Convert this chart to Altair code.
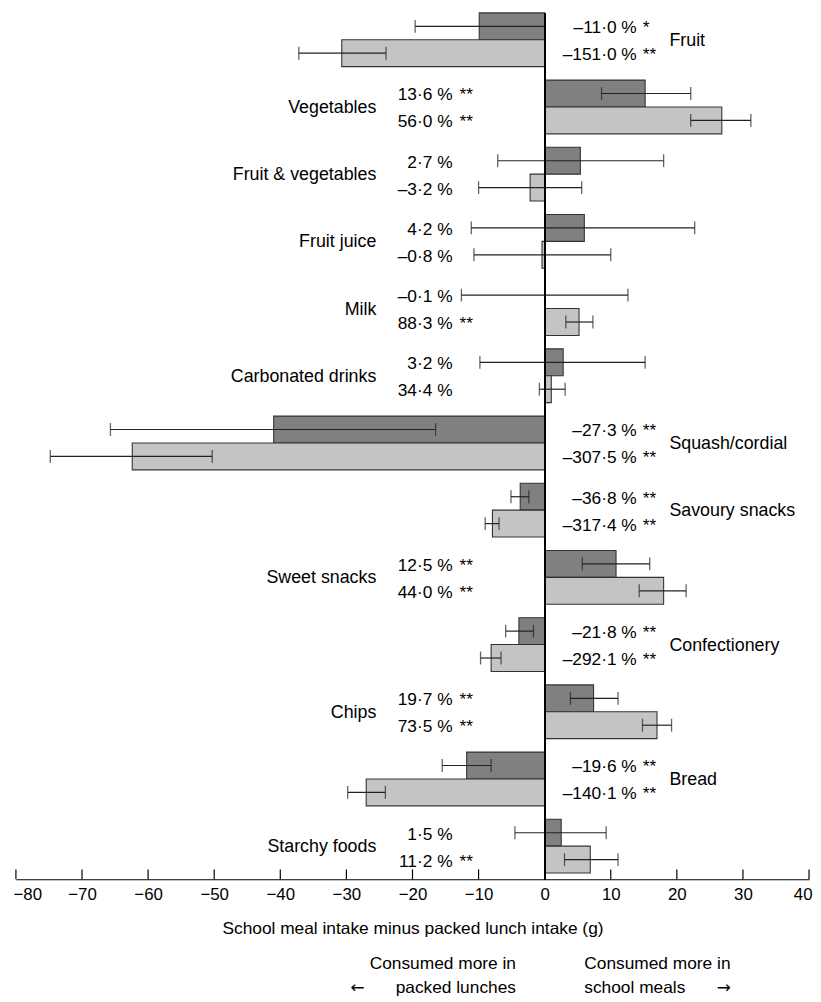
import altair as alt
import pandas as pd

categories = ["Fruit", "Vegetables", "Fruit & vegetables", "Fruit juice", "Milk",
              "Carbonated drinks", "Squash/cordial", "Savoury snacks", "Sweet snacks",
              "Confectionery", "Chips", "Bread", "Starchy foods"]

dark_mean = [-9.9, 15.2, 5.4, 6.0, 0.0, 2.8, -41.0, -3.7, 10.8, -3.9, 7.4, -11.8, 2.5]
dark_lo = [-19.6, 8.6, -7.1, -11.1, -12.6, -9.8, -65.7, -5.1, 5.7, -5.9, 3.9, -15.5, -4.5]
dark_hi = [0.1, 22.1, 18.0, 22.7, 12.6, 15.2, -16.5, -2.4, 15.9, -1.7, 11.1, -8.1, 9.3]
dark_pct = ["–11·0 %", "13·6 %", "2·7 %", "4·2 %", "–0·1 %", "3·2 %", "–27·3 %",
            "–36·8 %", "12·5 %", "–21·8 %", "19·7 %", "–19·6 %", "1·5 %"]
dark_sig = ["*", "**", "", "", "", "", "**", "**", "**", "**", "**", "**", ""]

light_mean = [-30.7, 26.8, -2.2, -0.4, 5.2, 1.0, -62.4, -7.9, 18.0, -8.1, 17.0, -27.0, 6.9]
light_lo = [-37.2, 22.1, -10.0, -10.7, 3.2, -0.8, -74.8, -9.0, 14.3, -9.7, 14.8, -29.8, 3.0]
light_hi = [-24.0, 31.2, 5.6, 10.0, 7.3, 3.1, -50.3, -6.9, 21.4, -6.6, 19.2, -24.1, 11.1]
light_pct = ["–151·0 %", "56·0 %", "–3·2 %", "–0·8 %", "88·3 %", "34·4 %", "–307·5 %",
             "–317·4 %", "44·0 %", "–292·1 %", "73·5 %", "–140·1 %", "11·2 %"]
light_sig = ["**", "**", "", "", "**", "", "**", "**", "**", "**", "**", "**", "**"]

x_ticks = [-80, -70, -60, -50, -40, -30, -20, -10, 0, 10, 20, 30, 40]
x_title = "School meal intake minus packed lunch intake (g)"
note_left = ["Consumed more in", "packed lunches"]
note_right = ["Consumed more in", "school meals"]

rows = []
for i, c in enumerate(categories):
    side = "right" if dark_mean[i] + light_mean[i] < 0 else "left"
    rows.append(dict(cat=c, series="dark", mean=dark_mean[i], lo=dark_lo[i], hi=dark_hi[i],
                     pct=dark_pct[i], sig=dark_sig[i], side=side))
    rows.append(dict(cat=c, series="light", mean=light_mean[i], lo=light_lo[i], hi=light_hi[i],
                     pct=light_pct[i], sig=light_sig[i], side=side))
df = pd.DataFrame(rows)
cat_df = pd.DataFrame({"cat": categories,
                       "side": ["right" if d + l < 0 else "left" for d, l in zip(dark_mean, light_mean)]})
tick_df = pd.DataFrame({"t": x_ticks})

W, H = 801, 875
FONT = "Liberation Sans, Arial, Helvetica, sans-serif"

xscale = alt.Scale(domain=[-80, 40], nice=False, zero=False)
yenc = alt.Y("cat:N", sort=categories, axis=None,
             scale=alt.Scale(paddingInner=0.2, paddingOuter=0, range=[0, H - 6.3]))
yoff = alt.YOffset("series:N", sort=["dark", "light"],
                   scale=alt.Scale(paddingInner=0, paddingOuter=0))
color = alt.Color("series:N", scale=alt.Scale(domain=["dark", "light"],
                                               range=["#808080", "#c4c4c4"]), legend=None)

base = alt.Chart(df)

bars = base.mark_bar(stroke="#333333", strokeWidth=1.1).encode(
    x=alt.X("mean:Q", scale=xscale,
            axis=alt.Axis(values=x_ticks, ticks=False, tickSize=0, grid=False,
                          domainColor="black", domainWidth=1.2, labelFontSize=17,
                          labelColor="black", labelPadding=7, labelFont=FONT,
                          labelFlush=True, labelFlushOffset=3,
                          title=x_title, titleFontSize=17.5, titleFontWeight="normal",
                          titleColor="black", titlePadding=18, titleFont=FONT)),
    x2=alt.datum(0),
    y=yenc, yOffset=yoff, color=color)

err = base.mark_rule(color="#222222", strokeWidth=1.2).encode(
    x="lo:Q", x2="hi:Q", y=yenc, yOffset=yoff)
cap_lo = base.mark_tick(color="#222222", thickness=1.3, size=13).encode(
    x="lo:Q", y=yenc, yOffset=yoff)
cap_hi = base.mark_tick(color="#222222", thickness=1.3, size=13).encode(
    x="hi:Q", y=yenc, yOffset=yoff)

zero = alt.Chart(tick_df).mark_rule(color="black", strokeWidth=1.2).encode(
    x=alt.datum(0), y=alt.value(0), y2=alt.value(H))
ticks = alt.Chart(tick_df).mark_rule(color="black", strokeWidth=1.2).encode(
    x=alt.X("t:Q"), y=alt.value(H - 10), y2=alt.value(H))

tstyle = dict(font=FONT, fontSize=17.5, color="black", baseline="middle", dy=2)
pct_left = base.transform_filter("datum.side == 'left'").mark_text(
    align="right", dx=-93, **tstyle).encode(x=alt.datum(0), y=yenc, yOffset=yoff, text="pct:N")
sig_left = base.transform_filter("datum.side == 'left'").mark_text(
    align="left", dx=-86, **tstyle).encode(x=alt.datum(0), y=yenc, yOffset=yoff, text="sig:N")
pct_right = base.transform_filter("datum.side == 'right'").mark_text(
    align="right", dx=93, **tstyle).encode(x=alt.datum(0), y=yenc, yOffset=yoff, text="pct:N")
sig_right = base.transform_filter("datum.side == 'right'").mark_text(
    align="left", dx=99, **tstyle).encode(x=alt.datum(0), y=yenc, yOffset=yoff, text="sig:N")

cstyle = dict(font=FONT, fontSize=18, color="black", baseline="middle", dy=1)
cat_left = alt.Chart(cat_df).transform_filter("datum.side == 'left'").mark_text(
    align="right", dx=-170, **cstyle).encode(x=alt.datum(0), y=yenc, text="cat:N")
cat_right = alt.Chart(cat_df).transform_filter("datum.side == 'right'").mark_text(
    align="left", dx=126, **cstyle).encode(x=alt.datum(0), y=yenc, text="cat:N")

one = alt.Data(values=[{"a": 1}])
nstyle = dict(font=FONT, fontSize=17.5, color="black", baseline="middle")
astyle = dict(font="DejaVu Sans", fontSize=17, color="black", baseline="middle")
Y1, Y2 = 961, 985
notes = [
    alt.Chart(one).mark_text(align="right", dx=-29, text=note_left[0], **nstyle).encode(
        x=alt.datum(0), y=alt.value(Y1)),
    alt.Chart(one).mark_text(align="right", dx=-29, text=note_left[1], **nstyle).encode(
        x=alt.datum(0), y=alt.value(Y2)),
    alt.Chart(one).mark_text(align="center", dx=-189, text="←", **astyle).encode(
        x=alt.datum(0), y=alt.value(Y2)),
    alt.Chart(one).mark_text(align="left", dx=40, text=note_right[0], **nstyle).encode(
        x=alt.datum(0), y=alt.value(Y1)),
    alt.Chart(one).mark_text(align="left", dx=40, text=note_right[1], **nstyle).encode(
        x=alt.datum(0), y=alt.value(Y2)),
    alt.Chart(one).mark_text(align="center", dx=181, text="→", **astyle).encode(
        x=alt.datum(0), y=alt.value(Y2)),
]

chart = alt.layer(bars, err, cap_lo, cap_hi, zero, ticks, pct_left, sig_left, pct_right,
                  sig_right, cat_left, cat_right, *notes).properties(
    width=W, height=H,
    autosize=alt.AutoSizeParams(type="none"),
    padding={"left": 8, "top": 0, "right": 4, "bottom": 119},
).configure(font=FONT).configure_view(stroke=None)

chart.save("out.html", embed_options={"renderer": "svg", "actions": False})
